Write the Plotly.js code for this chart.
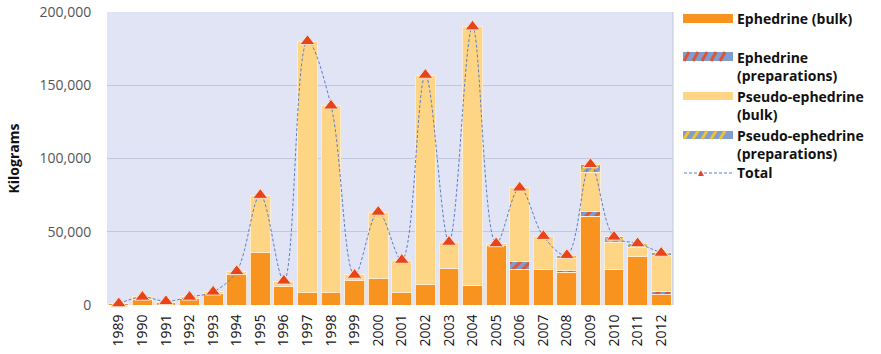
<!DOCTYPE html>
<html>
<head>
<meta charset="utf-8">
<script src="https://cdn.plot.ly/plotly-3.0.1.min.js"></script>
<style>html,body{margin:0;padding:0;background:#fff;}#chart{width:881px;height:354px;}</style>
</head>
<body>
<div id="chart"></div>
<script>
const years = ["1989","1990","1991","1992","1993","1994","1995","1996","1997","1998","1999","2000","2001","2002","2003","2004","2005","2006","2007","2008","2009","2010","2011","2012"];
const ephedrineBulk = [800,4000,1500,4500,8000,21000,36000,12500,8200,8200,17000,18400,8200,14300,25000,13000,40500,24500,24500,22500,60700,24500,33000,7000];
const ephedrinePrep = [0,0,0,0,0,0,0,0,0,0,0,0,0,0,0,0,0,5000,0,1000,3000,0,0,2500];
const pseudoBulk = [500,1500,1000,1000,1000,2000,39000,3500,172000,128000,3500,45000,22500,142700,18000,177000,1500,50500,22500,8500,27000,18500,6500,24000];
const pseudoPrep = [0,0,0,0,0,0,0,0,0,0,0,0,0,0,0,0,0,0,0,2000,5500,3500,2500,2000];
const total = [1000,5500,2500,5500,9000,23000,75000,16500,180000,136000,20500,63500,30700,157000,43000,190000,42000,80000,47000,34000,96000,46500,42000,35500];
const seriesNames = ["Ephedrine (bulk)","Ephedrine (preparations)","Pseudo-ephedrine (bulk)","Pseudo-ephedrine (preparations)","Total"];
const legendLines = [["Ephedrine (bulk)"],["Ephedrine","(preparations)"],["Pseudo-ephedrine","(bulk)"],["Pseudo-ephedrine","(preparations)"],["Total"]];
const yTicks = [0,50000,100000,150000,200000];
const yTickText = ["0","50,000","100,000","150,000","200,000"];

const ORANGE = "#F7931E", YELLOW = "#FDD585", BLUE = "#7F9DD0", RED = "#DD5533", GOLD = "#F2C12E";
const barLine = {color: "rgba(255,236,210,0.9)", width: 1};

const traces = [
  {type: "bar", name: seriesNames[0], x: years, y: ephedrineBulk, marker: {color: ORANGE, line: barLine}},
  {type: "bar", name: seriesNames[1], x: years, y: ephedrinePrep, marker: {color: BLUE, line: barLine, pattern: {shape: "/", fgcolor: RED, bgcolor: BLUE, size: 7, solidity: 0.45}}},
  {type: "bar", name: seriesNames[2], x: years, y: pseudoBulk, marker: {color: YELLOW, line: barLine}},
  {type: "bar", name: seriesNames[3], x: years, y: pseudoPrep, marker: {color: BLUE, line: barLine, pattern: {shape: "/", fgcolor: GOLD, bgcolor: BLUE, size: 7, solidity: 0.45}}},
  {type: "scatter", mode: "lines+markers", name: seriesNames[4], x: years, y: total, cliponaxis: false,
   line: {color: "#5B7EC6", width: 1, dash: "3px,2px", shape: "spline", smoothing: 1},
   marker: {symbol: "triangle-up", size: 13, color: "#E8441C", line: {color: "#FBE0C8", width: 1}}}
];

// pixel -> paper helpers for the hand-drawn legend
const L = 107, R = 673, T = 12, B = 305;
const px = v => (v - L) / (R - L);
const py = v => (B - v) / (B - T);

const shapes = [];
const annotations = [];
function rect(x0, y0, x1, y1, color) {
  shapes.push({type: "rect", xref: "paper", yref: "paper", x0: px(x0), x1: px(x1), y0: py(y1), y1: py(y0), fillcolor: color, line: {width: 0}, layer: "above"});
}
function stripes(x0, y0, x1, y1, color) {
  for (let x = x0 + 1; x + 5 <= x1; x += 9) {
    shapes.push({type: "line", xref: "paper", yref: "paper", x0: px(x), y0: py(y1), x1: px(x + 5), y1: py(y0), line: {color: color, width: 3}, layer: "above"});
  }
}
function label(lines, yTop) {
  annotations.push({xref: "paper", yref: "paper", x: px(736), y: py(yTop), xanchor: "left", yanchor: "top", align: "left",
    text: lines.map(s => "<b>" + s + "</b>").join("<br>"), showarrow: false, borderpad: 0,
    font: {family: "Open Sans, sans-serif", size: 14, color: "#111"}});
}
rect(683, 14, 733, 23, ORANGE);
label(legendLines[0], 8);
rect(683, 52, 733, 61, BLUE); stripes(683, 52, 733, 61, RED);
label(legendLines[1], 47);
rect(683, 92, 733, 100, YELLOW);
label(legendLines[2], 86);
rect(683, 131, 733, 139, BLUE); stripes(683, 131, 733, 139, GOLD);
label(legendLines[3], 125);
shapes.push({type: "line", xref: "paper", yref: "paper", x0: px(684), x1: px(732), y0: py(173), y1: py(173), line: {color: "#5B7EC6", width: 1, dash: "3px,2px"}, layer: "above"});
annotations.push({xref: "paper", yref: "paper", x: px(708), y: py(172), text: "▲", showarrow: false, font: {size: 10, color: "#E8441C"}});
label(legendLines[4], 162);
shapes.push({type: "line", xref: "paper", yref: "paper", x0: 1, x1: 1, y0: 0, y1: 1, line: {color: "#C3C7DC", width: 1}});

const layout = {
  width: 881, height: 354,
  margin: {l: L, r: 881 - R, t: T, b: 354 - B, pad: 0},
  paper_bgcolor: "#ffffff",
  plot_bgcolor: "#E0E4F4",
  barmode: "stack",
  bargap: 0.16,
  showlegend: false,
  font: {family: "Open Sans, sans-serif"},
  xaxis: {
    type: "category", range: [-0.5, 23.5], tickangle: -90, showgrid: false, zeroline: false,
    ticks: "outside", ticklen: 3, tickcolor: "rgba(0,0,0,0)",
    tickfont: {size: 14, color: "#111"}, showline: false
  },
  yaxis: {
    range: [0, 200000], tickvals: yTicks, ticktext: yTickText,
    gridcolor: "#C3C7DC", gridwidth: 1, zeroline: false,
    ticks: "outside", ticklen: 12, tickcolor: "rgba(0,0,0,0)",
    tickfont: {size: 14, color: "#555"},
    title: {text: "<b>Kilograms</b>", font: {size: 14, color: "#111"}, standoff: 16}
  },
  shapes: shapes,
  annotations: annotations
};

Plotly.newPlot("chart", traces, layout, {displayModeBar: false, staticPlot: true});
</script>
</body>
</html>
